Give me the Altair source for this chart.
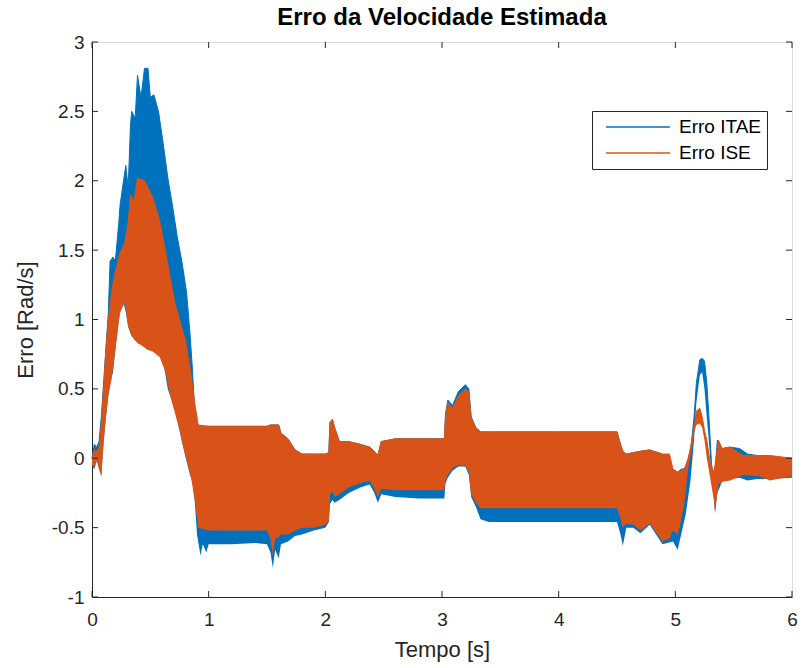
import altair as alt
import pandas as pd

# Envelope (upper / lower bound) of the fast-oscillating estimation error
itae_t = [0.00, 0.02, 0.04, 0.06, 0.08, 0.10, 0.12, 0.14, 0.155, 0.18, 0.20, 0.23, 0.24, 0.27, 0.29,
          0.31, 0.33, 0.34, 0.37, 0.39, 0.42, 0.45, 0.48, 0.50, 0.53, 0.57, 0.61, 0.65, 0.69, 0.73,
          0.77, 0.81, 0.84, 0.86, 0.88, 0.90, 0.93, 0.95, 0.98, 1.00, 1.20, 1.40, 1.50, 1.53, 1.55,
          1.57, 1.60, 1.62, 1.68, 1.74, 1.80, 1.90, 2.00, 2.03, 2.04, 2.06, 2.08, 2.12, 2.20, 2.30,
          2.38, 2.42, 2.45, 2.48, 2.60, 2.80, 3.02, 3.03, 3.05, 3.09, 3.14, 3.20, 3.23, 3.25, 3.29,
          3.33, 3.40, 4.00, 4.50, 4.53, 4.55, 4.58, 4.64, 4.70, 4.78, 4.89, 4.98, 5.02, 5.05, 5.09,
          5.13, 5.16, 5.18, 5.21, 5.23, 5.25, 5.27, 5.29, 5.31, 5.33, 5.34, 5.36, 5.40, 5.47, 5.55,
          5.62, 5.70, 5.80, 6.00]
itae_hi = [0.00, 0.10, 0.08, 0.12, 0.30, 0.55, 0.80, 1.05, 1.42, 1.45, 1.42, 1.70, 1.82, 2.00, 2.11,
           1.95, 2.40, 2.50, 2.45, 2.76, 2.60, 2.81, 2.81, 2.60, 2.62, 2.50, 2.27, 2.02, 1.82, 1.60,
           1.42, 1.20, 0.90, 0.65, 0.36, 0.25, 0.22, 0.22, 0.23, 0.23, 0.23, 0.23, 0.23, 0.24, 0.24,
           0.24, 0.24, 0.18, 0.14, 0.06, 0.03, 0.03, 0.03, 0.04, 0.26, 0.28, 0.22, 0.12, 0.12, 0.10,
           0.08, 0.05, 0.02, 0.12, 0.14, 0.14, 0.14, 0.32, 0.42, 0.38, 0.48, 0.53, 0.50, 0.30, 0.22,
           0.19, 0.19, 0.19, 0.19, 0.10, 0.05, 0.03, 0.04, 0.05, 0.06, 0.03, -0.08, -0.10, -0.08, -0.07,
           0.05, 0.29, 0.54, 0.71, 0.72, 0.70, 0.54, 0.27, -0.04, -0.15, -0.10, 0.13, 0.07, 0.08, 0.07,
           0.03, 0.02, 0.00, 0.00]
itae_lo = [-0.05, -0.08, -0.02, -0.05, -0.13, 0.12, 0.30, 0.45, 0.55, 0.62, 0.78, 1.00, 1.05, 1.12, 1.05,
           0.95, 0.90, 0.88, 0.85, 0.83, 0.82, 0.80, 0.78, 0.78, 0.77, 0.75, 0.70, 0.50, 0.40, 0.29,
           0.12, -0.02, -0.12, -0.17, -0.30, -0.55, -0.70, -0.62, -0.68, -0.62, -0.62, -0.61, -0.62, -0.68, -0.79,
           -0.66, -0.72, -0.62, -0.60, -0.56, -0.55, -0.52, -0.50, -0.46, -0.33, -0.30, -0.32, -0.30, -0.25, -0.21,
           -0.19, -0.25, -0.32, -0.26, -0.28, -0.29, -0.29, -0.18, -0.14, -0.09, -0.06, -0.06, -0.12, -0.28, -0.35,
           -0.44, -0.46, -0.46, -0.46, -0.55, -0.63, -0.50, -0.50, -0.54, -0.48, -0.62, -0.60, -0.66, -0.55, -0.40,
           -0.16, 0.13, 0.40, 0.60, 0.62, 0.50, 0.29, 0.10, -0.15, -0.29, -0.40, -0.25, -0.17, -0.15, -0.14,
           -0.16, -0.15, -0.15, -0.14]

ise_t = [0.00, 0.02, 0.04, 0.06, 0.08, 0.10, 0.12, 0.14, 0.17, 0.20, 0.24, 0.28, 0.31, 0.33, 0.36,
         0.39, 0.45, 0.48, 0.52, 0.55, 0.58, 0.63, 0.67, 0.71, 0.75, 0.80, 0.85, 0.88, 0.91, 1.00,
         1.50, 1.53, 1.55, 1.57, 1.60, 1.62, 1.68, 1.74, 1.80, 1.90, 2.00, 2.03, 2.04, 2.06, 2.08,
         2.12, 2.20, 2.30, 2.38, 2.42, 2.45, 2.48, 2.60, 2.80, 3.02, 3.03, 3.05, 3.09, 3.14, 3.20,
         3.23, 3.25, 3.29, 3.33, 4.50, 4.53, 4.55, 4.58, 4.64, 4.70, 4.78, 4.89, 4.95, 4.98, 5.02,
         5.05, 5.08, 5.11, 5.14, 5.16, 5.18, 5.21, 5.23, 5.25, 5.27, 5.30, 5.33, 5.34, 5.37, 5.40,
         5.47, 5.58, 5.72, 5.81, 6.00]
ise_hi = [0.00, 0.06, 0.05, 0.08, 0.25, 0.50, 0.80, 1.00, 1.21, 1.35, 1.48, 1.55, 1.70, 1.90, 1.85,
          2.02, 2.00, 1.95, 1.88, 1.80, 1.71, 1.49, 1.30, 1.12, 1.00, 0.85, 0.60, 0.40, 0.24, 0.23,
          0.23, 0.24, 0.24, 0.24, 0.24, 0.18, 0.14, 0.06, 0.03, 0.03, 0.03, 0.04, 0.26, 0.28, 0.22,
          0.12, 0.12, 0.10, 0.08, 0.05, 0.02, 0.12, 0.14, 0.14, 0.14, 0.30, 0.40, 0.36, 0.45, 0.50,
          0.48, 0.29, 0.22, 0.19, 0.19, 0.10, 0.05, 0.03, 0.04, 0.05, 0.06, 0.03, 0.03, -0.08, -0.10,
          -0.09, -0.07, 0.00, 0.12, 0.22, 0.34, 0.36, 0.30, 0.20, 0.13, -0.04, -0.10, -0.05, 0.13, 0.07,
          0.08, 0.02, 0.02, 0.02, 0.00]
ise_lo = [-0.05, -0.06, -0.02, -0.08, -0.13, 0.12, 0.30, 0.45, 0.58, 0.78, 1.05, 1.12, 0.95, 0.90, 0.86,
          0.83, 0.80, 0.78, 0.77, 0.75, 0.73, 0.62, 0.45, 0.33, 0.20, 0.02, -0.14, -0.30, -0.50, -0.52,
          -0.52, -0.58, -0.70, -0.58, -0.57, -0.55, -0.55, -0.52, -0.50, -0.50, -0.48, -0.45, -0.26, -0.24, -0.28,
          -0.26, -0.21, -0.18, -0.16, -0.22, -0.28, -0.22, -0.23, -0.23, -0.23, -0.16, -0.12, -0.07, -0.05, -0.05,
          -0.10, -0.26, -0.32, -0.36, -0.36, -0.44, -0.50, -0.47, -0.48, -0.52, -0.47, -0.60, -0.58, -0.52, -0.55,
          -0.45, -0.31, -0.07, 0.05, 0.18, 0.24, 0.25, 0.22, 0.13, 0.00, -0.15, -0.30, -0.38, -0.19, -0.17,
          -0.16, -0.12, -0.13, -0.16, -0.13]

series_names = ["Erro ITAE", "Erro ISE"]
series_colors = ["#0072BD", "#D95319"]
x_ticks = [0, 1, 2, 3, 4, 5, 6]
y_ticks = [-1, -0.5, 0, 0.5, 1, 1.5, 2, 2.5, 3]

W, H = 700, 555
FONT = "Liberation Sans"
AXIS_COLOR = "#262626"

itae = pd.DataFrame({"t": itae_t, "hi": itae_hi, "lo": itae_lo, "serie": series_names[0]})
ise = pd.DataFrame({"t": ise_t, "hi": ise_hi, "lo": ise_lo, "serie": series_names[1]})

xs = alt.Scale(domain=[0, 6], nice=False, zero=False)
ys = alt.Scale(domain=[-1, 3], nice=False, zero=False)

x_axis = alt.Axis(values=x_ticks, ticks=False, grid=False, labelFontSize=19, labelFont=FONT,
                  labelColor=AXIS_COLOR, labelPadding=13, labelExpr="datum.value + ''",
                  title="Tempo [s]", titleFontSize=22,
                  titleFont=FONT, titleFontWeight="normal", titleColor=AXIS_COLOR, titlePadding=10,
                  domainColor=AXIS_COLOR, labelFlush=False)
y_axis = alt.Axis(values=y_ticks, ticks=False, grid=False, labelFontSize=19, labelFont=FONT,
                  labelColor=AXIS_COLOR, labelPadding=8, labelExpr="datum.value + ''",
                  title="Erro [Rad/s]", titleFontSize=22, titleFont=FONT, titleFontWeight="normal",
                  titleColor=AXIS_COLOR, titlePadding=14, domainColor=AXIS_COLOR, labelFlush=False)

color = alt.Color(
    "serie:N",
    scale=alt.Scale(domain=series_names, range=series_colors),
    legend=alt.Legend(
        title=None, orient="none", legendX=500, legendY=69,
        symbolType="stroke", symbolSize=4096, symbolStrokeWidth=1.5,
        symbolOffset=7, clipHeight=20, rowPadding=6, padding=6,
        labelFontSize=19, labelFont=FONT, labelColor="#000000", labelOffset=8,
        strokeColor=AXIS_COLOR, fillColor="white",
    ),
)


def band(df, c):
    return alt.Chart(df).mark_area(color=c, opacity=1, interpolate="linear").encode(
        x=alt.X("t:Q", scale=xs, axis=x_axis),
        y=alt.Y("hi:Q", scale=ys, axis=y_axis),
        y2="lo:Q",
    )


def edge(df):
    return alt.Chart(df).mark_line(strokeWidth=1).encode(
        x=alt.X("t:Q", scale=xs),
        y=alt.Y("hi:Q", scale=ys),
        color=color,
    )


# inside ticks on all four sides of the box
xt = pd.DataFrame({"v": x_ticks})
yt = pd.DataFrame({"v": y_ticks})
tick_style = dict(color=AXIS_COLOR, strokeWidth=1)
ticks_bottom = alt.Chart(xt).mark_rule(**tick_style).encode(
    x=alt.X("v:Q", scale=xs), y=alt.value(H), y2=alt.value(H - 6))
ticks_top = alt.Chart(xt).mark_rule(**tick_style).encode(
    x=alt.X("v:Q", scale=xs), y=alt.value(0), y2=alt.value(6))
ticks_left = alt.Chart(yt).mark_rule(**tick_style).encode(
    y=alt.Y("v:Q", scale=ys), x=alt.value(0), x2=alt.value(6))
ticks_right = alt.Chart(yt).mark_rule(**tick_style).encode(
    y=alt.Y("v:Q", scale=ys), x=alt.value(W), x2=alt.value(W - 6))

chart = alt.layer(
    band(itae, series_colors[0]), edge(itae),
    band(ise, series_colors[1]), edge(ise),
    ticks_bottom, ticks_top, ticks_left, ticks_right,
).properties(
    width=W, height=H,
    padding={"left": 92, "top": 42, "right": 13, "bottom": 71},
    autosize="none",
    title=alt.TitleParams("Erro da Velocidade Estimada", fontSize=24, font=FONT,
                          fontWeight="bold", color="#000000", anchor="middle", offset=3),
).configure_view(stroke=AXIS_COLOR, strokeWidth=1).configure(background="white")

chart.save("out.html", embed_options={"renderer": "svg", "actions": False})
